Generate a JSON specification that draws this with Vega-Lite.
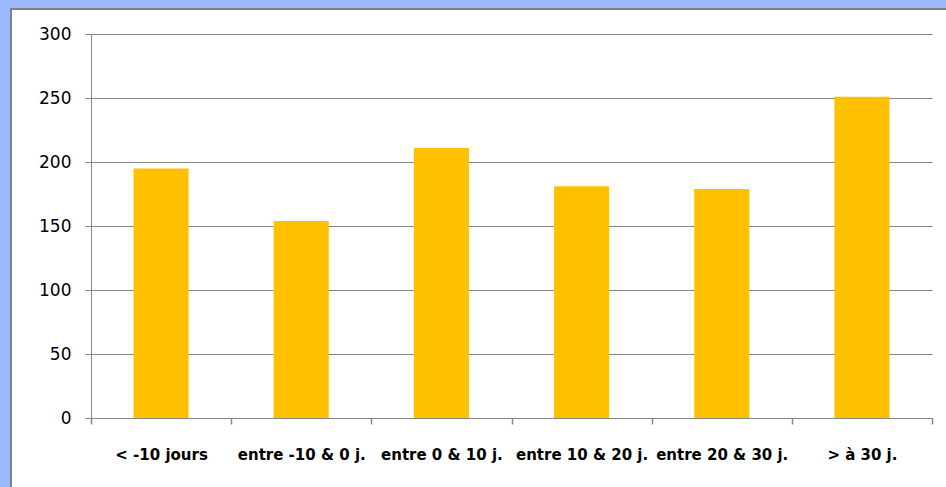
{
  "$schema": "https://vega.github.io/schema/vega-lite/v6.json",
  "width": 936,
  "height": 479,
  "autosize": {"type": "none"},
  "padding": {"left": 11, "top": 9, "right": 0, "bottom": 0},
  "background": "#9DBAFF",
  "config": {
    "view": {"fill": "white", "stroke": "#808080", "strokeWidth": 2}
  },
  "data": {
    "values": [
      {"cat": "< -10 jours", "v": 195},
      {"cat": "entre -10 & 0 j.", "v": 154},
      {"cat": "entre 0 & 10 j.", "v": 211},
      {"cat": "entre 10 & 20 j.", "v": 181},
      {"cat": "entre 20 & 30 j.", "v": 179},
      {"cat": "> à 30 j.", "v": 251}
    ]
  },
  "mark": {"type": "bar", "color": "#FFC000", "width": {"band": 0.393}},
  "encoding": {
    "x": {
      "field": "cat",
      "type": "nominal",
      "sort": null,
      "title": null,
      "scale": {"range": [80, 921], "paddingInner": 0, "paddingOuter": 0},
      "axis": {
        "offset": -70,
        "labelAngle": 0,
        "tickBand": "extent",
        "domainColor": "#868686",
        "tickColor": "#868686",
        "tickSize": 6,
        "tickWidth": 1.5,
        "labelFont": "DejaVu Sans",
        "labelFontWeight": "bold",
        "labelFontSize": 15,
        "labelColor": "#000000",
        "labelPadding": 23
      }
    },
    "y": {
      "field": "v",
      "type": "quantitative",
      "title": null,
      "scale": {"domain": [0, 300], "nice": false, "range": [409, 25]},
      "axis": {
        "offset": -80,
        "values": [0, 50, 100, 150, 200, 250, 300],
        "domainColor": "#868686",
        "tickColor": "#868686",
        "gridColor": "#868686",
        "grid": true,
        "tickSize": 6,
        "labelFont": "DejaVu Sans",
        "labelFontSize": 17,
        "labelColor": "#000000",
        "labelPadding": 14
      }
    }
  }
}
